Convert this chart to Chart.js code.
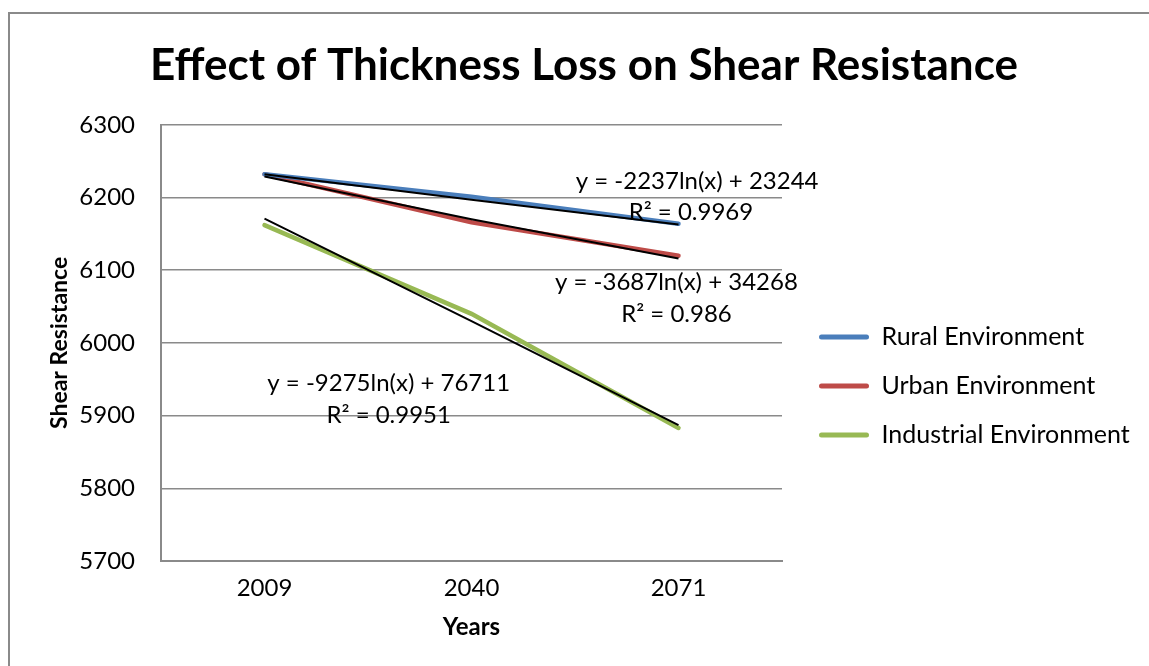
<!DOCTYPE html>
<html>
<head>
<meta charset="utf-8">
<script src="https://cdn.jsdelivr.net/npm/chart.js@4.4.0/dist/chart.umd.min.js"></script>
<style>
    html, body { margin: 0; padding: 0; background: #fff; overflow: hidden; }
    #frame {
        position: absolute;
        left: 8px;
        top: 12px;
        width: 1148px;
        height: 660px;
        border-left: 2px solid #8a8a8a;
        border-top: 2px solid #8a8a8a;
    }
</style>
</head>
<body>
<div id="frame"><canvas id="shearChart" width="1148" height="660"></canvas></div>
<script>
// Data
const years = ['2009', '2040', '2071'];
const rural = [6232, 6201, 6164];
const urban = [6232, 6166, 6120];
const industrial = [6162, 6040, 5883];

// Logarithmic trendlines (as seen on the chart)
const ruralTrend = [6232, 6197, 6163];
const urbanTrend = [6229, 6170, 6116];
const industrialTrend = [6171, 6030, 5887];

const equations = [
    'y = -2237ln(x) + 23244', 'R² = 0.9969',
    'y = -3687ln(x) + 34268', 'R² = 0.986',
    'y = -9275ln(x) + 76711', 'R² = 0.9951'
];

const yTicks = [5700, 5800, 5900, 6000, 6100, 6200, 6300];

const FONT = 'Lato';

// equation labels, placed in data coordinates (category index, value)
const eqLabels = {
    id: 'eqLabels',
    afterDatasetsDraw(chart) {
        const { ctx, scales: { x, y } } = chart;
        const spots = [[2.09, 6223], [2.06, 6180], [1.99, 6083], [1.99, 6040], [0.60, 5944], [0.60, 5901]];
        ctx.save();
        ctx.font = '24px ' + FONT;
        ctx.fillStyle = '#000';
        ctx.textAlign = 'center';
        ctx.textBaseline = 'middle';
        spots.forEach((s, i) => {
            ctx.fillText(equations[i], x.getPixelForValue(s[0]), y.getPixelForValue(s[1]));
        });
        ctx.restore();
    }
};

// give the legend a fixed width and nudge it to where the reference has it
const legendPlace = {
    id: 'legendPlace',
    beforeLayout(chart) {
        const lg = chart.legend;
        if (lg && !lg.fitPatched) {
            const fit = lg.fit;
            lg.fit = function () { fit.call(this); this.width = 376; };
            lg.fitPatched = true;
        }
    },
    afterLayout(chart) {
        const lg = chart.legend;
        lg.left += 13; lg.right += 13;
        lg.top += 42; lg.bottom += 42;
    }
};

const lineSet = (label, data, color) => ({
    label: label,
    data: data,
    borderColor: color,
    backgroundColor: color,
    borderWidth: 4.5,
    borderCapStyle: 'round',
    pointRadius: 0,
    tension: 0,
    order: 1
});

const trendSet = (data) => ({
    label: 'trend',
    data: data,
    borderColor: '#000',
    borderWidth: 2,
    pointRadius: 0,
    tension: 0,
    order: 0
});

const ctx = document.getElementById('shearChart').getContext('2d');
new Chart(ctx, {
    type: 'line',
    data: {
        labels: years,
        datasets: [
            lineSet('Rural Environment', rural, '#4A7EBB'),
            lineSet('Urban Environment', urban, '#BE4B48'),
            lineSet('Industrial Environment', industrial, '#98B954'),
            trendSet(ruralTrend),
            trendSet(urbanTrend),
            trendSet(industrialTrend)
        ]
    },
    options: {
        responsive: false,
        animation: false,
        layout: { padding: 0 },
        plugins: {
            title: {
                display: true,
                text: 'Effect of Thickness Loss on Shear Resistance',
                color: '#000',
                font: { family: FONT, size: 44, weight: 'bold' },
                padding: { top: 25, bottom: 33 }
            },
            legend: {
                position: 'right',
                labels: {
                    color: '#000',
                    font: { family: FONT, size: 25 },
                    boxWidth: 50,
                    boxHeight: 5,
                    padding: 24,
                    useBorderRadius: true,
                    borderRadius: 2.5,
                    filter: item => item.text !== 'trend',
                    generateLabels: chart => Chart.defaults.plugins.legend.labels.generateLabels(chart)
                        .map(it => Object.assign(it, { lineWidth: 0 }))
                }
            },
            tooltip: { enabled: false }
        },
        scales: {
            x: {
                offset: true,
                grid: { display: false, drawTicks: false },
                border: { color: '#8a8a8a', width: 2 },
                ticks: { color: '#000', font: { family: FONT, size: 24 }, padding: 13 },
                title: {
                    display: true,
                    text: 'Years',
                    color: '#000',
                    font: { family: FONT, size: 24, weight: 'bold' },
                    padding: { top: 0, bottom: 32 }
                },
                afterFit: s => { s.height = 113; }
            },
            y: {
                min: 5700,
                max: 6300,
                afterBuildTicks: s => { s.ticks = yTicks.map(v => ({ value: v })); },
                grid: { color: '#8a8a8a', lineWidth: 1.5, drawTicks: false },
                border: { color: '#8a8a8a', width: 2 },
                ticks: {
                    color: '#000',
                    font: { family: FONT, size: 24 },
                    padding: 26,
                    callback: v => String(v)
                },
                title: {
                    display: true,
                    text: 'Shear Resistance',
                    color: '#000',
                    font: { family: FONT, size: 23, weight: 'bold' },
                    padding: { top: 36, bottom: 0 }
                },
                afterFit: s => { s.width = 151; }
            }
        }
    },
    plugins: [eqLabels, legendPlace]
});
</script>
</body>
</html>
